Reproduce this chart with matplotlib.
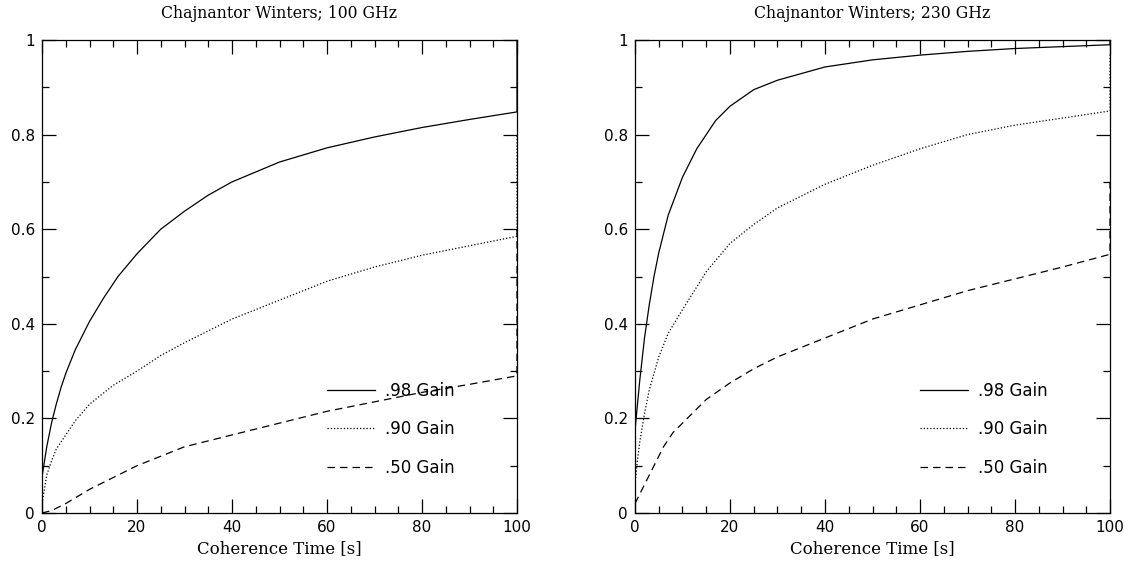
import matplotlib
matplotlib.use("Agg")
import matplotlib.pyplot as plt
from matplotlib.ticker import MultipleLocator, FixedLocator, FixedFormatter

# ---------------- data ----------------
titles = ["Chajnantor Winters; 100 GHz", "Chajnantor Winters; 230 GHz"]
labels = [".98 Gain", ".90 Gain", ".50 Gain"]
xlabel = "Coherence Time [s]"

# 100 GHz
l_x98 = [0, 1, 2, 3, 4, 5, 7, 10, 13, 16, 20, 25, 30, 35, 40, 50, 60, 70, 80, 90, 100, 100]
l_y98 = [0.076, 0.14, 0.19, 0.23, 0.265, 0.295, 0.345, 0.405, 0.455, 0.50, 0.548, 0.60,
         0.638, 0.672, 0.70, 0.742, 0.772, 0.795, 0.815, 0.832, 0.848, 1.0]
l_x90 = [0, 1, 2, 3, 5, 7, 10, 15, 20, 25, 30, 40, 50, 60, 70, 80, 90, 100, 100]
l_y90 = [0.02, 0.08, 0.11, 0.135, 0.165, 0.195, 0.23, 0.27, 0.30, 0.333, 0.36, 0.41,
         0.45, 0.49, 0.52, 0.545, 0.565, 0.585, 0.80]
l_x50 = [0, 2, 5, 10, 15, 20, 25, 30, 40, 50, 60, 70, 80, 90, 100, 100]
l_y50 = [0.0, 0.005, 0.02, 0.05, 0.075, 0.10, 0.12, 0.14, 0.165, 0.19, 0.215, 0.235,
         0.255, 0.272, 0.29, 0.60]

# 230 GHz
r_x98 = [0, 1, 2, 3, 4, 5, 7, 10, 13, 17, 20, 25, 30, 40, 50, 60, 70, 80, 90, 100, 100]
r_y98 = [0.175, 0.28, 0.37, 0.44, 0.50, 0.55, 0.63, 0.71, 0.77, 0.83, 0.86, 0.895,
         0.915, 0.943, 0.958, 0.968, 0.976, 0.982, 0.986, 0.99, 1.0]
r_x90 = [0, 0.5, 1, 2, 3, 5, 7, 10, 15, 20, 25, 30, 40, 50, 60, 70, 80, 90, 100, 100]
r_y90 = [0.06, 0.11, 0.15, 0.21, 0.26, 0.33, 0.38, 0.43, 0.51, 0.57, 0.61, 0.645,
         0.695, 0.735, 0.77, 0.80, 0.82, 0.835, 0.85, 0.97]
r_x50 = [0, 2, 4, 6, 8, 10, 15, 20, 25, 30, 40, 50, 60, 70, 80, 90, 100, 100]
r_y50 = [0.02, 0.06, 0.10, 0.14, 0.17, 0.19, 0.24, 0.275, 0.305, 0.33, 0.37, 0.41,
         0.44, 0.47, 0.495, 0.52, 0.547, 0.70]

yticks = [0, 0.2, 0.4, 0.6, 0.8, 1]
ytick_labels = ["0", "0.2", "0.4", "0.6", "0.8", "1"]
xticks = [0, 20, 40, 60, 80, 100]
xtick_labels = ["0", "20", "40", "60", "80", "100"]

panels = [
    (titles[0], [(l_x98, l_y98), (l_x90, l_y90), (l_x50, l_y50)]),
    (titles[1], [(r_x98, r_y98), (r_x90, r_y90), (r_x50, r_y50)]),
]

styles = [dict(ls="-"), dict(ls=(0, (1, 1.6))), dict(ls=(0, (6, 4)))]

W, H = 1131, 565
fig = plt.figure(figsize=(W / 100, H / 100), dpi=100)
fig.patch.set_facecolor("white")

lefts = [42, 635]
for (title, series), lx in zip(panels, lefts):
    ax = fig.add_axes([lx / W, (H - 513) / H, 475 / W, 473 / H])
    for (xs, ys), st, lab in zip(series, styles, labels):
        ax.plot(xs, ys, color="black", lw=0.9, label=lab, **st)
    ax.set_xlim(0, 100)
    ax.set_ylim(0, 1)
    ax.xaxis.set_major_locator(FixedLocator(xticks))
    ax.xaxis.set_major_formatter(FixedFormatter(xtick_labels))
    ax.yaxis.set_major_locator(FixedLocator(yticks))
    ax.yaxis.set_major_formatter(FixedFormatter(ytick_labels))
    ax.xaxis.set_minor_locator(MultipleLocator(5))
    ax.yaxis.set_minor_locator(MultipleLocator(0.1))
    ax.tick_params(which="both", direction="in", top=True, right=True,
                   color="black", width=0.9)
    ax.tick_params(which="major", length=10, labelsize=11, pad=5)
    ax.tick_params(which="minor", length=5)
    for lab in ax.get_xticklabels() + ax.get_yticklabels():
        lab.set_family("DejaVu Sans")
    for sp in ax.spines.values():
        sp.set_linewidth(0.9)
    ax.set_title(title, fontsize=11.3, family="DejaVu Serif", pad=16)
    ax.set_xlabel(xlabel, fontsize=12, family="DejaVu Serif", labelpad=4)
    ax.legend(loc="lower left", bbox_to_anchor=(0.600, 0.077),
              frameon=False, handlelength=2.9,
              handletextpad=0.6, labelspacing=1.22, borderpad=0,
              borderaxespad=0, prop={"family": "DejaVu Sans", "size": 12})

fig.savefig("out.png", dpi=100, facecolor="white")
